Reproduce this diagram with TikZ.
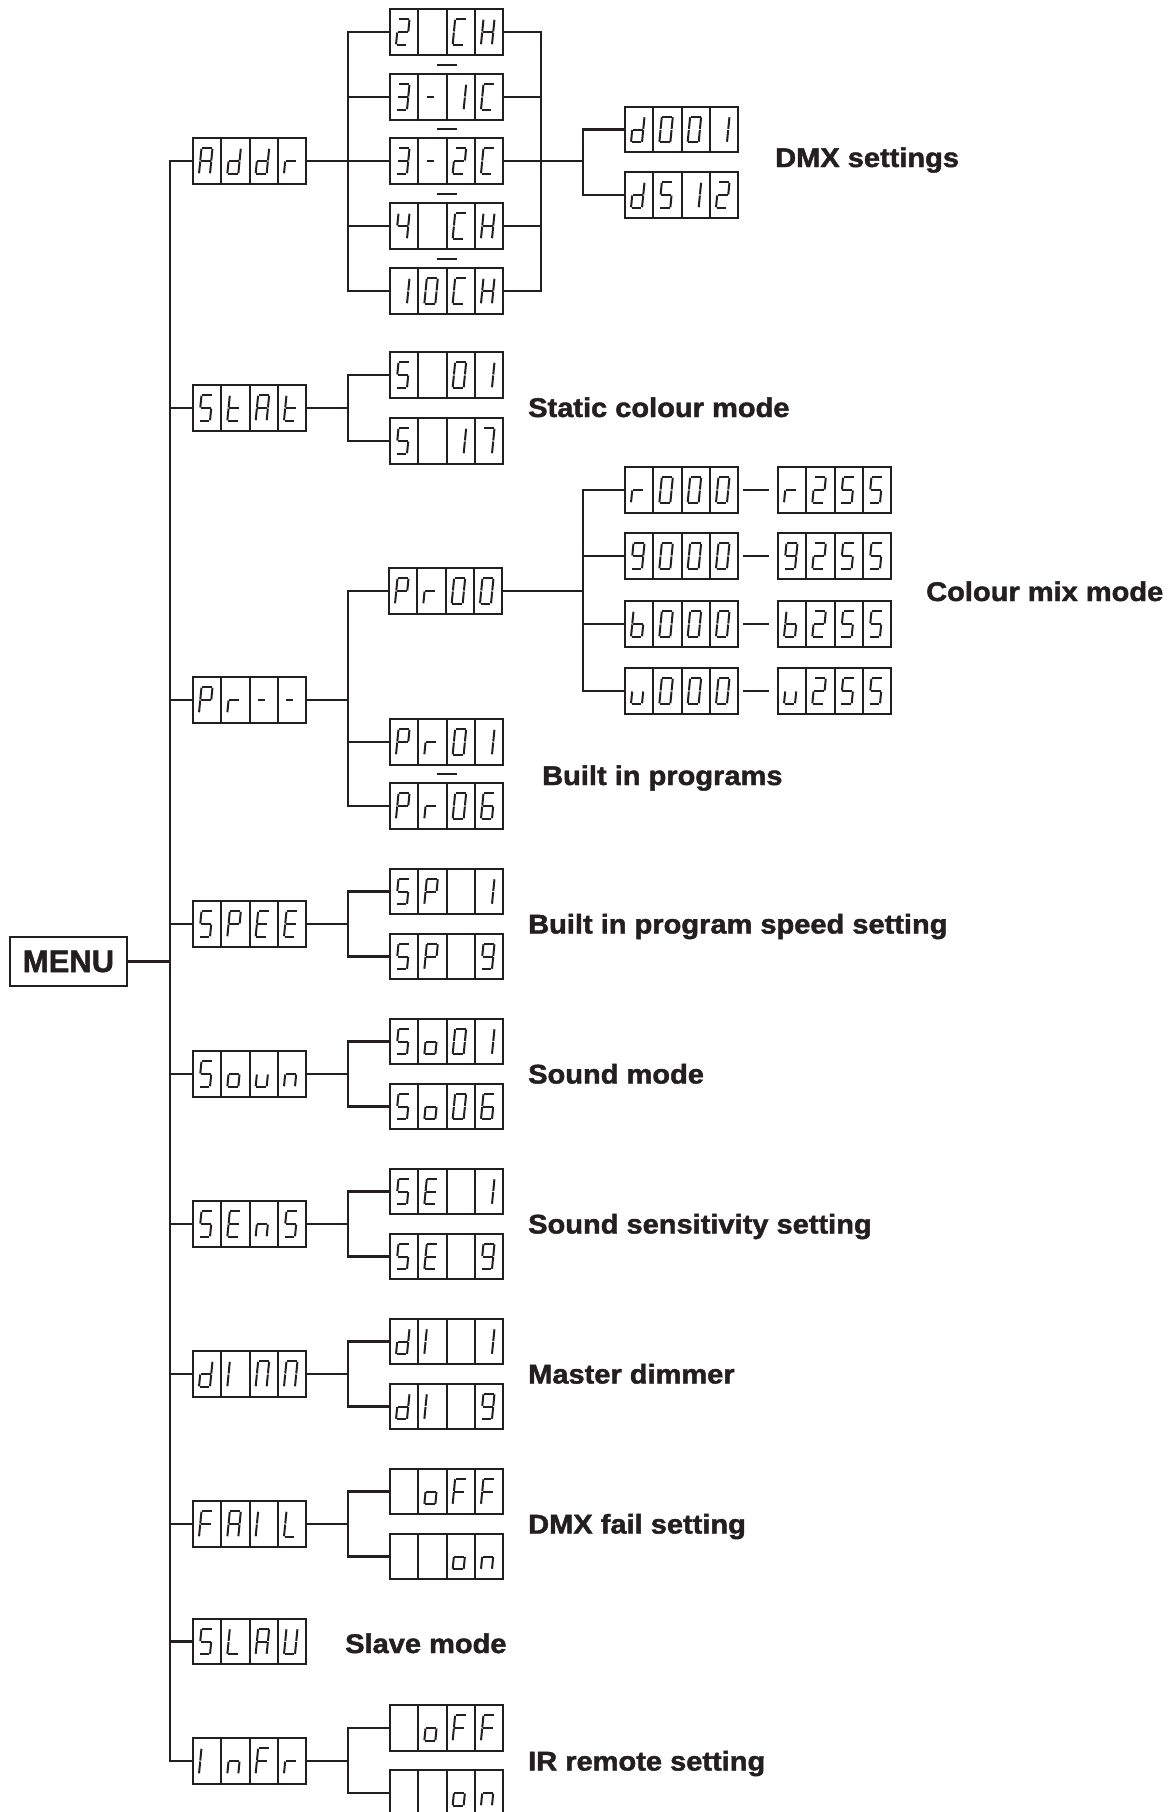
\documentclass[tikz,border=0pt]{standalone}
\usepackage{fontspec}
\setmainfont{Liberation Sans}
\newfontfamily\labfont[BoldFeatures={FakeBold=1.6}]{Liberation Sans}
\usetikzlibrary{calc}
\definecolor{ink}{RGB}{35,31,32}
\tikzset{
  conn/.style={draw=ink, line width=2.4pt},
  boxline/.style={draw=ink, line width=2pt},
  segline/.style={draw=ink, line width=2pt, line cap=butt},
  dashmark/.style={draw=ink, line width=2pt},
  dispbox/.style={boxline, rectangle, minimum width=113.3pt, minimum height=45.5pt, inner sep=0pt, outer sep=0pt},
  lab/.style={font=\labfont\fontsize{27}{32}\selectfont\bfseries, inner sep=0pt, text=ink, anchor=base west},
  menubox/.style={draw=ink, line width=2.4pt, rectangle, minimum width=117pt, minimum height=49pt, inner sep=0pt, outer sep=0pt, font=\labfont\fontsize{31}{36}\selectfont\bfseries, text=ink},
}
% one stroke of a seven-segment glyph: (u1,v1) -- (u2,v2) in glyph units
\newcommand\sgm[4]{\draw[segline] ({\gx+#1*11+#2*2.5},{\gy-#2*25.5}) -- ({\gx+#3*11+#4*2.5},{\gy-#4*25.5});}
\newcommand\sgA{\sgm{0.05}{1}{0.95}{1}}
\newcommand\sgB{\sgm{1}{0.98}{1}{0.52}}
\newcommand\sgC{\sgm{1}{0.48}{1}{0.02}}
\newcommand\sgD{\sgm{0.05}{0}{0.95}{0}}
\newcommand\sgE{\sgm{0}{0.02}{0}{0.48}}
\newcommand\sgF{\sgm{0}{0.52}{0}{0.98}}
\newcommand\sgG{\sgm{0.05}{0.5}{0.95}{0.5}}
\newcommand\sgM{\sgm{0.1}{0.5}{0.75}{0.5}}
% glyphs
\newcommand\svA{\sgA\sgB\sgC\sgE\sgF\sgG}
\newcommand\svb{\sgC\sgD\sgE\sgF\sgG}
\newcommand\svC{\sgA\sgD\sgE\sgF}
\newcommand\svd{\sgB\sgC\sgD\sgE\sgG}
\newcommand\svE{\sgA\sgD\sgE\sgF\sgG}
\newcommand\svF{\sgA\sgE\sgF\sgG}
\newcommand\svH{\sgB\sgC\sgE\sgF\sgG}
\newcommand\svI{\sgE\sgF}
\newcommand\svL{\sgD\sgE\sgF}
\newcommand\svM{\sgA\sgB\sgC\sgE\sgF}
\newcommand\svn{\sgC\sgE\sgG}
\newcommand\svo{\sgC\sgD\sgE\sgG}
\newcommand\svP{\sgA\sgB\sgE\sgF\sgG}
\newcommand\svr{\sgE\sgG}
\newcommand\svS{\sgA\sgC\sgD\sgF\sgG}
\newcommand\svt{\sgD\sgE\sgF\sgG}
\newcommand\svU{\sgB\sgC\sgD\sgE\sgF}
\newcommand\svu{\sgC\sgD\sgE}
\newcommand\svdash{\sgM}
\newcommand\svzero{\sgA\sgB\sgC\sgD\sgE\sgF}
\newcommand\svone{\sgB\sgC}
\newcommand\svtwo{\sgA\sgB\sgD\sgE\sgG}
\newcommand\svthree{\sgA\sgB\sgC\sgD\sgG}
\newcommand\svfour{\sgB\sgC\sgF\sgG}
\newcommand\svfive{\sgA\sgC\sgD\sgF\sgG}
\newcommand\svsix{\sgA\sgC\sgD\sgE\sgF\sgG}
\newcommand\svseven{\sgA\sgB\sgC}
\newcommand\svnine{\sgA\sgB\sgC\sgD\sgF\sgG}
% a four-cell display: name, left x, centre y, four glyphs
\newcommand\disp[7]{%
  \node[dispbox, anchor=west] (#1) at (#2,#3) {};
  \foreach \k in {1,2,3}{\draw[boxline] ({#2+\k*28.325},{#3-22.75}) -- ({#2+\k*28.325},{#3+22.75});}
  \pgfmathsetmacro\gy{#3+12.75}%
  \pgfmathsetmacro\gx{#2+6}#4%
  \pgfmathsetmacro\gx{#2+6+28.325}#5%
  \pgfmathsetmacro\gx{#2+6+56.65}#6%
  \pgfmathsetmacro\gx{#2+6+84.975}#7%
}
\begin{document}
\begin{tikzpicture}[x=1pt,y=-1pt]
\useasboundingbox[fill=white] (0,0) rectangle (1167,1812);
\coordinate (trunkx) at (170,0);
\coordinate (bx) at (348,0);
\coordinate (rbx) at (541,0);
\coordinate (cbx) at (583,0);

\node[menubox] (menu) at (68.5,961.5) {MENU};

% level 1
\disp{addr}{193}{161}{\svA}{\svd}{\svd}{\svr}
\disp{stat}{193}{408}{\svS}{\svt}{\svA}{\svt}
\disp{prog}{193}{700}{\svP}{\svr}{\svdash}{\svdash}
\disp{spee}{193}{924}{\svS}{\svP}{\svE}{\svE}
\disp{soun}{193}{1074}{\svS}{\svo}{\svu}{\svn}
\disp{sens}{193}{1224}{\svS}{\svE}{\svn}{\svS}
\disp{dimm}{193}{1374}{\svd}{\svI}{\svM}{\svM}
\disp{fail}{193}{1524}{\svF}{\svA}{\svI}{\svL}
\disp{slav}{193}{1641.5}{\svS}{\svL}{\svA}{\svU}
\disp{infr}{193}{1761}{\svI}{\svn}{\svF}{\svr}

% Addr children
\disp{ctwo}{390}{32}{\svtwo}{}{\svC}{\svH}
\disp{cthreeone}{390}{97}{\svthree}{\svdash}{\svone}{\svC}
\disp{cthreetwo}{390}{161}{\svthree}{\svdash}{\svtwo}{\svC}
\disp{cfour}{390}{226}{\svfour}{}{\svC}{\svH}
\disp{cten}{390}{291}{\svone}{\svzero}{\svC}{\svH}
\disp{dlow}{625}{129.5}{\svd}{\svzero}{\svzero}{\svone}
\disp{dhigh}{625}{195}{\svd}{\svfive}{\svone}{\svtwo}

% StAt children
\disp{sone}{390}{375}{\svS}{}{\svzero}{\svone}
\disp{sseventeen}{390}{441}{\svS}{}{\svone}{\svseven}

% Pr-- children
\disp{przero}{389}{591}{\svP}{\svr}{\svzero}{\svzero}
\disp{prone}{390}{742}{\svP}{\svr}{\svzero}{\svone}
\disp{prsix}{390}{806}{\svP}{\svr}{\svzero}{\svsix}
\disp{rlo}{625}{490}{\svr}{\svzero}{\svzero}{\svzero}
\disp{glo}{625}{556}{\svnine}{\svzero}{\svzero}{\svzero}
\disp{blo}{625}{624}{\svb}{\svzero}{\svzero}{\svzero}
\disp{ulo}{625}{691}{\svu}{\svzero}{\svzero}{\svzero}
\disp{rhi}{778}{490}{\svr}{\svtwo}{\svfive}{\svfive}
\disp{ghi}{778}{556}{\svnine}{\svtwo}{\svfive}{\svfive}
\disp{bhi}{778}{624}{\svb}{\svtwo}{\svfive}{\svfive}
\disp{uhi}{778}{691}{\svu}{\svtwo}{\svfive}{\svfive}

% other children
\disp{spone}{390}{891.5}{\svS}{\svP}{}{\svone}
\disp{spnine}{390}{956.5}{\svS}{\svP}{}{\svnine}
\disp{soone}{390}{1041.5}{\svS}{\svo}{\svzero}{\svone}
\disp{sosix}{390}{1106.5}{\svS}{\svo}{\svzero}{\svsix}
\disp{seone}{390}{1191.5}{\svS}{\svE}{}{\svone}
\disp{senine}{390}{1256.5}{\svS}{\svE}{}{\svnine}
\disp{dione}{390}{1341.5}{\svd}{\svI}{}{\svone}
\disp{dinine}{390}{1406.5}{\svd}{\svI}{}{\svnine}
\disp{faoff}{390}{1491.5}{}{\svo}{\svF}{\svF}
\disp{faon}{390}{1556.5}{}{}{\svo}{\svn}
\disp{iroff}{390}{1728}{}{\svo}{\svF}{\svF}
\disp{iron}{390}{1793}{}{}{\svo}{\svn}

% trunk
\draw[conn] (addr.west) -| (trunkx |- infr.west) -- (infr.west);
\draw[conn] (menu.east) -- (menu.east -| trunkx);
\foreach \n in {stat,prog,spee,soun,sens,dimm,fail,slav}{\draw[conn] (trunkx |- \n.west) -- (\n.west);}

% Addr branch
\draw[conn] (addr.east) -- (addr.east -| bx);
\draw[conn] (ctwo.west) -| (bx |- cten.west) -- (cten.west);
\foreach \n in {cthreeone,cthreetwo,cfour}{\draw[conn] (bx |- \n.west) -- (\n.west);}
\draw[conn] (ctwo.east) -| (rbx |- cten.east) -- (cten.east);
\foreach \n in {cthreeone,cthreetwo,cfour}{\draw[conn] (\n.east) -- (\n.east -| rbx);}
\draw[conn] (cthreetwo.east -| rbx) -- (cthreetwo.east -| cbx);
\draw[conn] (dlow.west) -| (cbx |- dhigh.west) -- (dhigh.west);
\foreach \a/\b in {ctwo/cthreeone,cthreeone/cthreetwo,cthreetwo/cfour,cfour/cten}{
  \draw[dashmark] ($(\a.south)!0.5!(\b.north)+(-10,0)$) -- ($(\a.south)!0.5!(\b.north)+(10,0)$);}

% StAt branch
\draw[conn] (stat.east) -- (stat.east -| bx);
\draw[conn] (sone.west) -| (bx |- sseventeen.west) -- (sseventeen.west);

% Pr branch
\draw[conn] (prog.east) -- (prog.east -| bx);
\draw[conn] (przero.west) -| (bx |- prsix.west) -- (prsix.west);
\draw[conn] (bx |- prone.west) -- (prone.west);
\draw[dashmark] ($(prone.south)!0.5!(prsix.north)+(-10,0)$) -- ($(prone.south)!0.5!(prsix.north)+(10,0)$);
\draw[conn] (przero.east) -- (przero.east -| cbx);
\draw[conn] (rlo.west) -| (cbx |- ulo.west) -- (ulo.west);
\foreach \n in {glo,blo}{\draw[conn] (cbx |- \n.west) -- (\n.west);}
\foreach \a/\b in {rlo/rhi,glo/ghi,blo/bhi,ulo/uhi}{
  \draw[dashmark] ($(\a.east)+(5,0)$) -- ($(\b.west)+(-9,0)$);}

% two-way branches
\foreach \p/\c/\d in {spee/spone/spnine,soun/soone/sosix,sens/seone/senine,dimm/dione/dinine,fail/faoff/faon,infr/iroff/iron}{
  \draw[conn] (\p.east) -- (\p.east -| bx);
  \draw[conn] (\c.west) -| (bx |- \d.west) -- (\d.west);}

% labels
\node[lab] (tdmx) at (775,167) {\scalebox{1.075}[1]{DMX settings}};
\node[lab] (tstat) at (528,417) {\scalebox{1.075}[1]{Static colour mode}};
\node[lab] (tmix) at (926,601) {\scalebox{1.075}[1]{Colour mix mode}};
\node[lab] (tbuilt) at (542,785) {\scalebox{1.075}[1]{Built in programs}};
\node[lab] (tspeed) at (528,933.5) {\scalebox{1.075}[1]{Built in program speed setting}};
\node[lab] (tsound) at (528,1083.5) {\scalebox{1.075}[1]{Sound mode}};
\node[lab] (tsens) at (528,1233.5) {\scalebox{1.075}[1]{Sound sensitivity setting}};
\node[lab] (tdim) at (528,1383.5) {\scalebox{1.075}[1]{Master dimmer}};
\node[lab] (tfail) at (528,1533.5) {\scalebox{1.075}[1]{DMX fail setting}};
\node[lab] (tslave) at (345,1653) {\scalebox{1.075}[1]{Slave mode}};
\node[lab] (tir) at (528,1770.5) {\scalebox{1.075}[1]{IR remote setting}};
\end{tikzpicture}
\end{document}
